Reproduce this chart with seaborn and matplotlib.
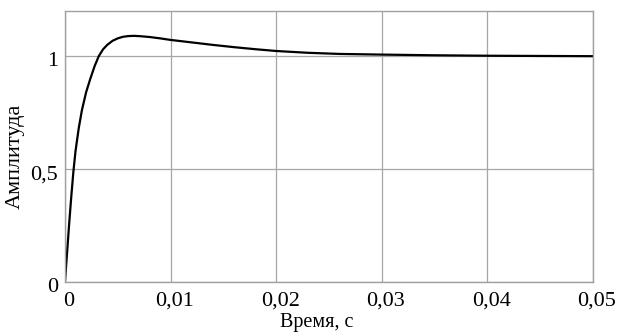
import matplotlib
matplotlib.use("Agg")
import matplotlib.pyplot as plt
import matplotlib.transforms as mtransforms
import numpy as np
import pandas as pd
import seaborn as sns

# Step response of the system: time (s) and amplitude
time_s = [0, 0.0002, 0.0004, 0.0006, 0.0008, 0.001, 0.0013, 0.0016, 0.002,
          0.0024, 0.0028, 0.0032, 0.0036, 0.004, 0.0045, 0.005, 0.0055,
          0.006, 0.0065, 0.007, 0.008, 0.009, 0.010, 0.012, 0.014, 0.016,
          0.018, 0.020, 0.023, 0.026, 0.030, 0.035, 0.040, 0.045, 0.050]
amplitude = [0, 0.13, 0.26, 0.38, 0.49, 0.58, 0.68, 0.76, 0.84,
             0.90, 0.955, 1.0, 1.03, 1.05, 1.068, 1.079, 1.086,
             1.089, 1.090, 1.089, 1.085, 1.079, 1.072, 1.061, 1.050, 1.040,
             1.031, 1.023, 1.015, 1.010, 1.007, 1.004, 1.002, 1.001, 1.0]

x_ticks = [0, 0.01, 0.02, 0.03, 0.04, 0.05]
x_tick_labels = ["0", "0,01", "0,02", "0,03", "0,04", "0,05"]
y_ticks = [0, 0.5, 1]
y_tick_labels = ["0", "0,5", "1"]

sns.set_theme(style="white")
plt.rcParams["font.family"] = ["Liberation Serif", "DejaVu Serif"]

df = pd.DataFrame({"t": time_s, "a": amplitude})

fig = plt.figure(figsize=(6.17, 3.34), dpi=100)
ax = fig.add_axes([0.1053, 0.1557, 0.8558, 0.8113])

sns.lineplot(data=df, x="t", y="a", ax=ax, color="black", linewidth=1.6,
             sort=False, estimator=None)

ax.set_xlim(0, 0.05)
ax.set_ylim(0, 1.2)
ax.set_xticks(x_ticks)
ax.set_xticklabels(x_tick_labels)
ax.set_yticks(y_ticks)
ax.set_yticklabels(y_tick_labels)
ax.tick_params(axis="both", length=0, labelsize=16, colors="black")
ax.tick_params(axis="x", pad=7)
ax.tick_params(axis="y", pad=5)

# nudge tick labels slightly to the right / down
shift_x = mtransforms.ScaledTranslation(4 / 100, 0, fig.dpi_scale_trans)
for lbl in ax.get_xticklabels():
    lbl.set_transform(lbl.get_transform() + shift_x)
shift_y = mtransforms.ScaledTranslation(0, -3 / 100, fig.dpi_scale_trans)
for lbl in ax.get_yticklabels():
    lbl.set_transform(lbl.get_transform() + shift_y)

ax.grid(True, color="#a6a6a6", linewidth=0.9)
for sp in ax.spines.values():
    sp.set_color("#a0a0a0")
    sp.set_linewidth(1.0)

ax.set_xlabel("Время, с", fontsize=14.5, color="black")
ax.xaxis.set_label_coords(0.477, -0.116)
ax.set_ylabel("Амплитуда", fontsize=16, color="black")
ax.yaxis.set_label_coords(-0.077, 0.465)

fig.savefig("out.png", dpi=100, facecolor="white")
